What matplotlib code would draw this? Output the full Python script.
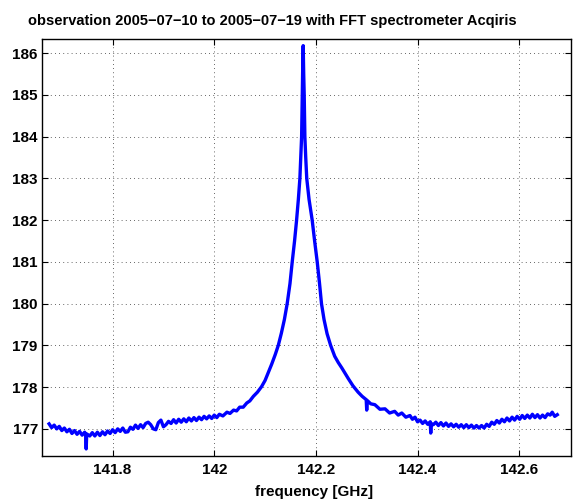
import matplotlib
matplotlib.use("Agg")
import matplotlib.pyplot as plt

plt.rcParams['font.family'] = ['Liberation Sans', 'DejaVu Sans']
plt.rcParams['font.weight'] = 'bold'

# spectrum (frequency in GHz, temperature in K)
freq = [141.675, 141.680, 141.685, 141.690, 141.695, 141.700, 141.705, 141.710,
        141.715, 141.720, 141.725, 141.730, 141.735, 141.740, 141.745, 141.747,
        141.748, 141.749, 141.755, 141.760, 141.765, 141.770, 141.775, 141.780,
        141.785, 141.790, 141.795, 141.800, 141.805, 141.810, 141.815, 141.820,
        141.825, 141.830, 141.835, 141.840, 141.845, 141.850, 141.855, 141.860,
        141.865, 141.870, 141.875, 141.880, 141.885, 141.890, 141.895, 141.900,
        141.905, 141.910, 141.915, 141.920, 141.925, 141.930, 141.935, 141.940,
        141.945, 141.950, 141.955, 141.960, 141.965, 141.970, 141.975, 141.980,
        141.985, 141.990, 141.995, 142.000, 142.005, 142.010, 142.017, 142.025,
        142.031, 142.038, 142.044, 142.050, 142.057, 142.064, 142.070, 142.077,
        142.085, 142.093, 142.100, 142.106, 142.113, 142.120, 142.126, 142.132,
        142.138, 142.1435, 142.149, 142.1534, 142.158, 142.162, 142.1655, 142.1685,
        142.1702, 142.1719, 142.1725, 142.173, 142.174, 142.175, 142.176, 142.177,
        142.1783, 142.1800, 142.1820, 142.1865, 142.1927, 142.1975, 142.2026, 142.207,
        142.211, 142.216, 142.222, 142.229, 142.237, 142.244, 142.251, 142.258,
        142.264, 142.273, 142.283, 142.291, 142.299, 142.300, 142.301, 142.308,
        142.316, 142.326, 142.336, 142.345, 142.355, 142.362, 142.369, 142.377,
        142.385, 142.390, 142.395, 142.400, 142.405, 142.410, 142.415, 142.420,
        142.425, 142.426, 142.427, 142.431, 142.436, 142.441, 142.446, 142.451,
        142.456, 142.461, 142.466, 142.471, 142.476, 142.481, 142.486, 142.491,
        142.496, 142.501, 142.506, 142.511, 142.516, 142.521, 142.526, 142.531,
        142.536, 142.541, 142.546, 142.551, 142.556, 142.561, 142.566, 142.571,
        142.576, 142.581, 142.586, 142.591, 142.596, 142.601, 142.606, 142.611,
        142.616, 142.621, 142.626, 142.631, 142.636, 142.641, 142.646, 142.651,
        142.656, 142.661, 142.665, 142.670, 142.675]
temp = [177.12, 177.03, 177.09, 177.00, 177.06, 176.96, 177.02, 176.93,
        176.99, 176.89, 176.96, 176.87, 176.94, 176.85, 176.92, 176.86,
        176.52, 176.88, 176.83, 176.91, 176.83, 176.92, 176.84, 176.93,
        176.86, 176.95, 176.89, 176.98, 176.91, 177.00, 176.94, 177.02,
        176.92, 176.93, 177.04, 176.99, 177.09, 177.01, 177.10, 177.03,
        177.13, 177.16, 177.10, 177.00, 176.98, 177.15, 177.21, 177.05,
        177.10, 177.18, 177.13, 177.22, 177.14, 177.23, 177.16, 177.24,
        177.17, 177.26, 177.19, 177.27, 177.20, 177.28, 177.22, 177.30,
        177.24, 177.31, 177.25, 177.33, 177.27, 177.35, 177.31, 177.40,
        177.37, 177.45, 177.43, 177.52, 177.52, 177.62, 177.67, 177.78,
        177.88, 178.01, 178.16, 178.34, 178.55, 178.78, 179.00, 179.29,
        179.62, 180.00, 180.48, 181.00, 181.50, 182.00, 182.50, 183.00,
        183.50, 184.00, 184.50, 185.00, 185.60, 186.18, 185.50, 185.00,
        184.00, 183.50, 183.00, 182.50, 182.00, 181.50, 181.00, 180.50,
        180.00, 179.62, 179.28, 179.00, 178.74, 178.59, 178.46, 178.32,
        178.20, 178.03, 177.88, 177.78, 177.70, 177.45, 177.68, 177.60,
        177.58, 177.47, 177.48, 177.38, 177.42, 177.33, 177.38, 177.28,
        177.32, 177.23, 177.28, 177.17, 177.21, 177.13, 177.19, 177.11,
        177.17, 176.90, 177.13, 177.10, 177.16, 177.08, 177.15, 177.07,
        177.14, 177.06, 177.12, 177.05, 177.11, 177.04, 177.10, 177.03,
        177.10, 177.03, 177.09, 177.02, 177.08, 177.02, 177.08, 177.02,
        177.11, 177.06, 177.16, 177.11, 177.20, 177.14, 177.23, 177.17,
        177.26, 177.19, 177.28, 177.21, 177.30, 177.23, 177.32, 177.25,
        177.33, 177.26, 177.35, 177.27, 177.34, 177.26, 177.33, 177.27,
        177.36, 177.33, 177.40, 177.30, 177.34]

xticks = [141.8, 142.0, 142.2, 142.4, 142.6]
xticklabels = ['141.8', '142', '142.2', '142.4', '142.6']
yticks = [177, 178, 179, 180, 181, 182, 183, 184, 185, 186]

fig = plt.figure(figsize=(5.88, 5.01), dpi=100)
ax = fig.add_axes([0.0714, 0.0898, 0.8997, 0.8324])

ax.plot(freq, temp, color=(0, 0, 1), linewidth=2.4)

ax.set_xlim(141.661, 142.702)
ax.set_ylim(176.35, 186.34)
ax.set_xticks(xticks)
ax.set_xticklabels(xticklabels)
ax.set_yticks(yticks)

ax.grid(True, linestyle=(0, (1, 4)), color='#333333', linewidth=0.6)
ax.tick_params(axis='x', pad=5)
ax.tick_params(axis='y', pad=3)
ax.tick_params(direction='in', length=4, width=0.8, top=True, right=True,
               labelsize=11)
for lab in ax.get_xticklabels() + ax.get_yticklabels():
    lab.set_fontweight('bold')
for sp in ax.spines.values():
    sp.set_linewidth(1.0)
    sp.set_color('black')

ax.set_title('observation 2005\u221207\u221210 to 2005\u221207\u221219 with FFT spectrometer Acqiris',
             fontsize=10.5, fontweight='bold', pad=10, x=0.436)
ax.set_xlabel('frequency [GHz]', fontsize=11, fontweight='bold', labelpad=6, x=0.514)

fig.savefig('out.png', dpi=100)
